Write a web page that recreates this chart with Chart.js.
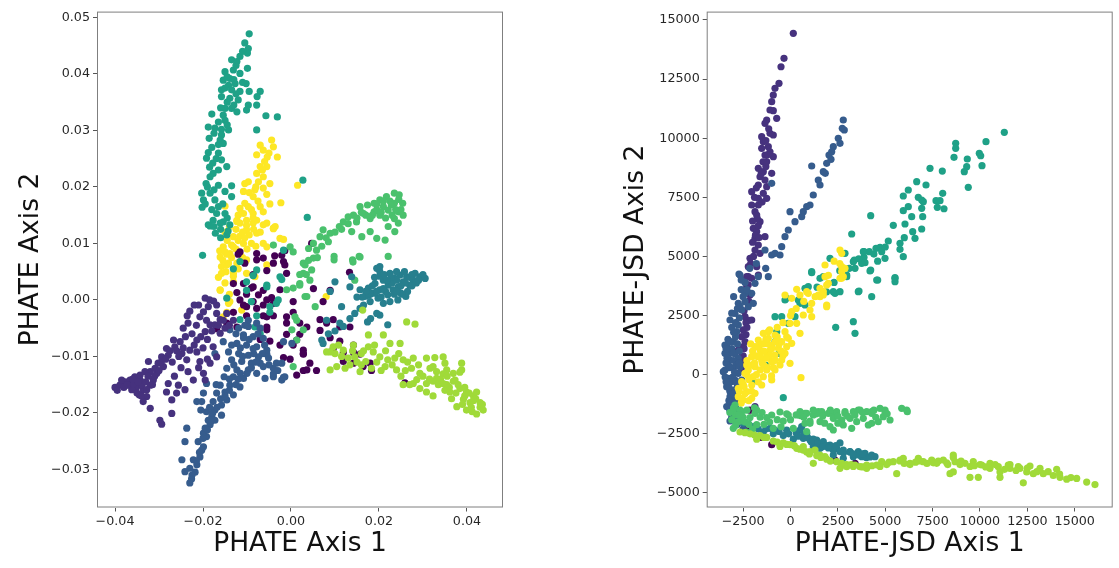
<!DOCTYPE html>
<html>
<head>
<meta charset="utf-8">
<script src="https://cdn.jsdelivr.net/npm/chart.js@4.4.1/dist/chart.umd.min.js"></script>
<style>
  html, body { margin: 0; padding: 0; background: #fff; }
  body { width: 1119px; height: 568px; position: relative; overflow: hidden; }
  .panel { position: absolute; top: 0; height: 568px; }
  #left { left: 0; width: 520px; }
  #right { left: 600px; width: 519px; }
</style>
</head>
<body>
<div class="panel" id="left"><canvas id="chartLeft"></canvas></div>
<div class="panel" id="right"><canvas id="chartRight"></canvas></div>
<script>
// viridis colours, one per class
const classColors = ['#440154', '#46327e', '#365c8d', '#277f8e', '#1fa187', '#4ac16d', '#a0da39', '#fde725']

// ---- left panel: PHATE ----
const leftXTicks = [-0.04, -0.02, 0, 0.02, 0.04]
const leftXLabels = ['\u22120.04', '\u22120.02', '0.00', '0.02', '0.04']
const leftYTicks = [-0.03, -0.02, -0.01, 0, 0.01, 0.02, 0.03, 0.04, 0.05]
const leftYLabels = ['\u22120.03', '\u22120.02', '\u22120.01', '0.00', '0.01', '0.02', '0.03', '0.04', '0.05']

const leftDarkPurple = [[-0.0120,0.0081],[-0.0078,0.0071],[-0.0086,0.0045],[-0.0055,0.0052],[-0.0017,0.0068],[-0.0014,0.0087],[-0.0037,0.0078],[0.0047,0.0100],[0.0133,0.0049],[-0.0108,0.0029],[-0.0123,0.0013],[-0.0101,0.0010],[-0.0063,0.0017],[-0.0044,0.0004],[-0.0108,-0.0009],[-0.0086,-0.0003],[-0.0063,-0.0009],[0.0005,-0.0003],[0.0051,0.0020],[0.0089,0.0017],[-0.0131,-0.0022],[-0.0101,-0.0028],[-0.0063,-0.0028],[-0.0040,-0.0028],[-0.0010,-0.0041],[0.0005,-0.0022],[-0.0146,-0.0041],[-0.0123,-0.0048],[-0.0169,-0.0051],[-0.0055,-0.0048],[-0.0070,-0.0070],[-0.0048,-0.0073],[-0.0025,-0.0080],[-0.0010,-0.0061],[0.0020,-0.0061],[0.0036,-0.0048],[0.0005,-0.0080],[0.0028,-0.0089],[0.0066,-0.0035],[0.0081,-0.0041],[0.0066,-0.0054],[0.0096,-0.0035],[0.0111,-0.0048],[0.0089,-0.0067],[0.0134,-0.0048],[0.0111,-0.0073],[0.0142,-0.0080],[0.0119,-0.0093],[0.0142,-0.0093],[0.0096,-0.0086],[0.0157,-0.0096],[0.0119,-0.0109],[0.0142,-0.0112],[0.0164,-0.0118],[0.0180,-0.0112],[0.0183,-0.0125],[0.0028,-0.0096],[0.0043,-0.0112],[0.0028,-0.0125],[0.0058,-0.0125],[-0.0002,-0.0105],[-0.0017,-0.0102],[0.0259,-0.0147],[0.0073,-0.0003],[-0.0086,0.0023],[-0.0131,0.0029],[-0.0116,0.0085],[-0.0105,0.0065],[-0.0078,0.0082],[-0.0063,0.0074],[-0.0040,0.0065],[-0.0021,0.0079],[-0.0014,0.0062],[-0.0010,0.0047],[-0.0090,0.0021],[-0.0074,0.0009],[-0.0055,0.0000],[-0.0040,-0.0006],[-0.0025,0.0018],[-0.0010,-0.0030],[0.0020,-0.0041],[0.0013,-0.0071],[0.0028,-0.0095],[0.0036,-0.0124],[0.0013,-0.0133],[-0.0055,-0.0030],[-0.0078,-0.0015],[-0.0101,-0.0012],[-0.0055,-0.0053],[-0.0116,0.0000]]

const leftPurple = [[-0.0400,-0.0155],[-0.0389,-0.0151],[-0.0377,-0.0145],[-0.0366,-0.0142],[-0.0355,-0.0136],[-0.0343,-0.0142],[-0.0351,-0.0154],[-0.0362,-0.0159],[-0.0336,-0.0159],[-0.0345,-0.0168],[-0.0328,-0.0171],[-0.0336,-0.0180],[-0.0320,-0.0192],[-0.0320,-0.0151],[-0.0313,-0.0142],[-0.0320,-0.0127],[-0.0305,-0.0130],[-0.0324,-0.0109],[-0.0302,-0.0112],[-0.0290,-0.0118],[-0.0294,-0.0101],[-0.0279,-0.0098],[-0.0283,-0.0086],[-0.0264,-0.0083],[-0.0267,-0.0071],[-0.0252,-0.0074],[-0.0279,-0.0148],[-0.0283,-0.0163],[-0.0271,-0.0177],[-0.0256,-0.0151],[-0.0245,-0.0050],[-0.0234,-0.0041],[-0.0248,-0.0095],[-0.0230,-0.0089],[-0.0237,-0.0106],[-0.0214,-0.0092],[-0.0214,-0.0071],[-0.0210,-0.0009],[-0.0207,-0.0030],[-0.0192,-0.0036],[-0.0195,-0.0056],[-0.0184,-0.0044],[-0.0188,-0.0012],[-0.0199,-0.0130],[-0.0184,-0.0112],[-0.0169,-0.0024],[-0.0173,-0.0044],[-0.0161,-0.0059],[-0.0195,0.0003],[-0.0169,-0.0009],[-0.0154,-0.0036],[-0.0146,-0.0024],[-0.0131,-0.0036],[-0.0177,-0.0083],[-0.0169,-0.0101],[-0.0207,-0.0109],[-0.0234,-0.0127],[-0.0222,-0.0142],[-0.0195,-0.0142],[-0.0241,-0.0159],[-0.0298,-0.0213],[-0.0294,-0.0220],[-0.0271,-0.0201],[-0.0385,-0.0142],[-0.0370,-0.0151],[-0.0358,-0.0148],[-0.0339,-0.0151],[-0.0328,-0.0159],[-0.0343,-0.0133],[-0.0332,-0.0127],[-0.0309,-0.0121],[-0.0220,-0.0009],[-0.0199,-0.0021],[-0.0176,-0.0002],[-0.0161,-0.0035],[-0.0236,-0.0028],[-0.0395,-0.0160],[-0.0380,-0.0155],[-0.0372,-0.0150],[-0.0360,-0.0140],[-0.0348,-0.0145],[-0.0350,-0.0165],[-0.0340,-0.0170],[-0.0330,-0.0145],[-0.0325,-0.0135],[-0.0315,-0.0150],[-0.0310,-0.0135],[-0.0300,-0.0125],[-0.0295,-0.0110],[-0.0285,-0.0105],[-0.0275,-0.0090],[-0.0260,-0.0090],[-0.0270,-0.0110],[-0.0255,-0.0100],[-0.0245,-0.0085],[-0.0240,-0.0065],[-0.0225,-0.0060],[-0.0220,-0.0080],[-0.0205,-0.0065],[-0.0200,-0.0085],[-0.0190,-0.0070],[-0.0180,-0.0055],[-0.0165,-0.0045],[-0.0150,-0.0050],[-0.0140,-0.0045],[-0.0265,-0.0135],[-0.0250,-0.0120],[-0.0260,-0.0165],[-0.0210,-0.0120],[-0.0190,-0.0105],[-0.0215,-0.0045],[-0.0230,-0.0020],[-0.0185,0.0000]]

const leftBlue = [[-0.0230,-0.0298],[-0.0248,-0.0283],[-0.0214,-0.0292],[-0.0207,-0.0278],[-0.0203,-0.0266],[-0.0211,-0.0251],[-0.0241,-0.0251],[-0.0192,-0.0242],[-0.0199,-0.0236],[-0.0237,-0.0227],[-0.0184,-0.0221],[-0.0173,-0.0213],[-0.0188,-0.0213],[-0.0192,-0.0198],[-0.0173,-0.0195],[-0.0158,-0.0204],[-0.0214,-0.0180],[-0.0203,-0.0180],[-0.0177,-0.0180],[-0.0158,-0.0186],[-0.0146,-0.0177],[-0.0199,-0.0165],[-0.0169,-0.0165],[-0.0150,-0.0163],[-0.0131,-0.0168],[-0.0161,-0.0151],[-0.0139,-0.0151],[-0.0116,-0.0154],[-0.0192,-0.0148],[-0.0152,-0.0136],[-0.0131,-0.0136],[-0.0108,-0.0139],[-0.0146,-0.0121],[-0.0123,-0.0124],[-0.0097,-0.0124],[-0.0078,-0.0130],[-0.0135,-0.0106],[-0.0112,-0.0109],[-0.0090,-0.0112],[-0.0063,-0.0118],[-0.0040,-0.0121],[-0.0021,-0.0112],[-0.0142,-0.0092],[-0.0119,-0.0095],[-0.0097,-0.0098],[-0.0074,-0.0101],[-0.0051,-0.0103],[-0.0123,-0.0077],[-0.0101,-0.0080],[-0.0078,-0.0083],[-0.0055,-0.0089],[-0.0108,-0.0062],[-0.0086,-0.0065],[-0.0063,-0.0068],[-0.0119,-0.0050],[-0.0097,-0.0047],[-0.0070,-0.0050],[-0.0097,-0.0036],[-0.0078,-0.0041],[-0.0139,-0.0053],[-0.0154,-0.0074],[-0.0173,-0.0095],[-0.0021,-0.0142],[-0.0040,-0.0136],[-0.0059,-0.0139],[-0.0230,-0.0324],[-0.0226,-0.0317],[-0.0241,-0.0304],[-0.0218,-0.0305],[-0.0222,-0.0283],[-0.0199,-0.0260],[-0.0195,-0.0227],[-0.0180,-0.0207],[-0.0108,-0.0067],[-0.0086,-0.0086],[-0.0055,-0.0096],[-0.0033,-0.0112],[-0.0017,-0.0137],[-0.0040,-0.0131],[-0.0070,-0.0112],[-0.0017,-0.0074],[0.0002,-0.0077],[-0.0014,-0.0136],[-0.0225,-0.0310],[-0.0215,-0.0285],[-0.0208,-0.0270],[-0.0200,-0.0245],[-0.0190,-0.0230],[-0.0182,-0.0215],[-0.0178,-0.0200],[-0.0168,-0.0190],[-0.0185,-0.0190],[-0.0160,-0.0175],[-0.0150,-0.0170],[-0.0140,-0.0160],[-0.0125,-0.0150],[-0.0120,-0.0140],[-0.0115,-0.0130],[-0.0100,-0.0130],[-0.0090,-0.0120],[-0.0080,-0.0110],[-0.0130,-0.0115],[-0.0110,-0.0100],[-0.0085,-0.0095],[-0.0065,-0.0095],[-0.0060,-0.0080],[-0.0135,-0.0080],[-0.0115,-0.0085],[-0.0095,-0.0070],[-0.0075,-0.0060],[-0.0125,-0.0060],[-0.0105,-0.0045],[-0.0030,-0.0125],[-0.0050,-0.0115],[-0.0140,-0.0140],[-0.0170,-0.0150],[-0.0205,-0.0195]]

const leftTeal = [[0.0305,0.0038],[0.0293,0.0041],[0.0282,0.0047],[0.0278,0.0035],[0.0270,0.0026],[0.0263,0.0041],[0.0255,0.0032],[0.0248,0.0044],[0.0244,0.0023],[0.0236,0.0038],[0.0232,0.0018],[0.0225,0.0047],[0.0221,0.0026],[0.0220,0.0009],[0.0210,0.0035],[0.0202,0.0018],[0.0202,0.0050],[0.0198,0.0003],[0.0191,0.0029],[0.0187,0.0012],[0.0180,-0.0003],[0.0176,0.0021],[0.0168,0.0006],[0.0165,-0.0009],[0.0157,0.0018],[0.0157,-0.0015],[0.0243,0.0000],[0.0261,0.0006],[0.0225,-0.0003],[0.0210,-0.0006],[0.0202,0.0059],[0.0195,0.0056],[0.0202,-0.0027],[0.0220,-0.0044],[0.0145,-0.0024],[0.0138,0.0041],[0.0134,0.0023],[0.0100,0.0032],[0.0089,0.0015],[0.0115,-0.0012],[0.0081,-0.0036],[0.0134,-0.0033],[0.0070,-0.0071],[0.0111,-0.0041],[0.0119,-0.0047],[0.0174,-0.0039],[0.0195,-0.0024],[0.0181,-0.0033],[0.0202,0.0042],[0.0285,0.0030],[0.0270,0.0040],[0.0250,0.0012],[0.0230,0.0030],[0.0215,0.0015],[0.0265,0.0015],[0.0240,0.0050],[0.0190,0.0040],[0.0175,0.0008],[0.0073,-0.0077],[0.0085,-0.0060],[0.0100,-0.0055],[0.0300,0.0045],[0.0290,0.0035],[0.0275,0.0045],[0.0275,0.0025],[0.0260,0.0030],[0.0258,0.0050],[0.0250,0.0025],[0.0240,0.0035],[0.0235,0.0010],[0.0228,0.0040],[0.0218,0.0035],[0.0212,0.0045],[0.0210,0.0020],[0.0205,0.0005],[0.0195,0.0015],[0.0185,0.0025],[0.0180,0.0010],[0.0170,0.0015],[0.0162,0.0005],[0.0150,0.0005],[0.0253,0.0010],[0.0240,0.0015]]

const leftTealGreen = [[-0.0095,0.0471],[-0.0105,0.0455],[-0.0097,0.0445],[-0.0099,0.0437],[-0.0116,0.0431],[-0.0135,0.0425],[-0.0123,0.0422],[-0.0099,0.0410],[-0.0150,0.0404],[-0.0131,0.0407],[-0.0116,0.0401],[-0.0139,0.0392],[-0.0154,0.0389],[-0.0142,0.0380],[-0.0127,0.0383],[-0.0102,0.0383],[-0.0158,0.0372],[-0.0135,0.0372],[-0.0116,0.0369],[-0.0095,0.0369],[-0.0070,0.0369],[-0.0158,0.0360],[-0.0139,0.0357],[-0.0120,0.0354],[-0.0077,0.0360],[-0.0097,0.0345],[-0.0078,0.0345],[-0.0150,0.0339],[-0.0135,0.0339],[-0.0101,0.0336],[-0.0123,0.0333],[-0.0154,0.0327],[-0.0057,0.0326],[-0.0031,0.0324],[-0.0180,0.0329],[-0.0150,0.0318],[-0.0078,0.0301],[-0.0188,0.0306],[-0.0173,0.0304],[-0.0158,0.0302],[-0.0142,0.0301],[-0.0158,0.0292],[-0.0186,0.0286],[-0.0161,0.0283],[-0.0154,0.0277],[-0.0188,0.0261],[-0.0165,0.0260],[-0.0158,0.0248],[-0.0192,0.0251],[-0.0178,0.0242],[-0.0146,0.0236],[-0.0177,0.0224],[-0.0184,0.0218],[-0.0193,0.0206],[-0.0165,0.0203],[-0.0135,0.0202],[-0.0203,0.0189],[-0.0184,0.0189],[-0.0150,0.0192],[-0.0199,0.0177],[-0.0173,0.0177],[-0.0135,0.0183],[-0.0202,0.0164],[-0.0165,0.0165],[-0.0169,0.0153],[-0.0150,0.0153],[-0.0177,0.0141],[-0.0154,0.0138],[-0.0188,0.0133],[-0.0139,0.0133],[0.0027,0.0212],[0.0037,0.0146],[-0.0184,0.0131],[-0.0161,0.0136],[-0.0146,0.0115],[-0.0201,0.0079],[-0.0116,0.0068],[-0.0078,0.0053],[-0.0101,0.0032],[-0.0090,-0.0003],[-0.0146,0.0003],[-0.0055,0.0026],[-0.0025,0.0041],[-0.0048,-0.0012],[-0.0029,0.0000],[-0.0086,0.0043],[-0.0055,0.0023],[-0.0078,-0.0028],[-0.0048,-0.0022],[-0.0033,-0.0006],[-0.0021,0.0036],[-0.0070,-0.0060],[-0.0116,-0.0035],[-0.0101,0.0017],[-0.0131,0.0055],[-0.0082,-0.0048],[-0.0017,0.0088],[-0.0160,0.0125],[-0.0172,0.0118],[-0.0143,0.0122],[-0.0110,0.0440],[-0.0125,0.0415],[-0.0145,0.0395],[-0.0130,0.0390],[-0.0110,0.0385],[-0.0150,0.0375],[-0.0125,0.0365],[-0.0145,0.0350],[-0.0130,0.0345],[-0.0160,0.0340],[-0.0165,0.0315],[-0.0145,0.0310],[-0.0175,0.0295],[-0.0165,0.0275],[-0.0180,0.0270],[-0.0170,0.0250],[-0.0185,0.0235],[-0.0165,0.0230],[-0.0190,0.0200],[-0.0175,0.0195],[-0.0195,0.0170],[-0.0180,0.0160],[-0.0155,0.0170],[-0.0175,0.0130],[-0.0160,0.0110],[-0.0145,0.0145]]

const leftLightGreen = [[0.0235,0.0189],[0.0246,0.0186],[0.0217,0.0183],[0.0202,0.0177],[0.0254,0.0171],[0.0235,0.0171],[0.0189,0.0171],[0.0174,0.0168],[0.0157,0.0165],[0.0210,0.0165],[0.0221,0.0159],[0.0244,0.0156],[0.0189,0.0156],[0.0165,0.0153],[0.0142,0.0150],[0.0202,0.0150],[0.0235,0.0144],[0.0130,0.0147],[0.0180,0.0144],[0.0244,0.0136],[0.0119,0.0138],[0.0149,0.0138],[0.0221,0.0130],[0.0236,0.0121],[0.0110,0.0130],[0.0138,0.0121],[0.0161,0.0112],[0.0180,0.0121],[0.0195,0.0109],[0.0214,0.0106],[0.0073,0.0124],[0.0089,0.0118],[0.0066,0.0112],[0.0085,0.0103],[0.0051,0.0100],[0.0040,0.0091],[0.0058,0.0088],[0.0098,0.0077],[0.0098,0.0071],[0.0140,0.0071],[0.0155,0.0077],[0.0051,0.0074],[0.0032,0.0062],[0.0047,0.0053],[0.0028,0.0047],[0.0221,0.0077],[0.0043,0.0035],[0.0020,0.0029],[0.0005,0.0021],[0.0032,0.0006],[0.0055,-0.0012],[0.0005,0.0085],[-0.0010,0.0018],[0.0009,-0.0030],[0.0002,-0.0053],[0.0013,-0.0071],[0.0145,0.0035],[0.0141,0.0067],[0.0157,0.0076],[0.0020,0.0026],[0.0028,0.0065],[0.0036,0.0006],[0.0013,-0.0036],[0.0028,-0.0053],[0.0005,-0.0118],[-0.0002,0.0094],[-0.0040,0.0097],[0.0225,0.0175],[0.0195,0.0160],[0.0215,0.0145],[0.0250,0.0160],[0.0228,0.0168],[0.0170,0.0150],[0.0245,0.0178],[0.0238,0.0160],[0.0210,0.0175],[0.0195,0.0170],[0.0205,0.0155],[0.0185,0.0150],[0.0230,0.0150],[0.0255,0.0150],[0.0160,0.0155],[0.0150,0.0145],[0.0130,0.0135],[0.0115,0.0125],[0.0100,0.0120],[0.0080,0.0110],[0.0070,0.0095],[0.0060,0.0075],[0.0040,0.0070],[0.0035,0.0045],[0.0020,0.0045]]

const leftLime = [[0.0263,-0.0039],[0.0282,-0.0043],[0.0210,-0.0062],[0.0176,-0.0062],[0.0096,-0.0083],[0.0108,-0.0080],[0.0119,-0.0089],[0.0089,-0.0092],[0.0142,-0.0080],[0.0176,-0.0083],[0.0225,-0.0077],[0.0248,-0.0077],[0.0160,-0.0095],[0.0187,-0.0092],[0.0202,-0.0101],[0.0145,-0.0101],[0.0130,-0.0103],[0.0170,-0.0109],[0.0220,-0.0106],[0.0236,-0.0103],[0.0255,-0.0106],[0.0278,-0.0103],[0.0308,-0.0103],[0.0346,-0.0101],[0.0183,-0.0121],[0.0214,-0.0118],[0.0240,-0.0124],[0.0274,-0.0121],[0.0293,-0.0130],[0.0316,-0.0121],[0.0331,-0.0127],[0.0354,-0.0124],[0.0388,-0.0124],[0.0369,-0.0130],[0.0157,-0.0127],[0.0134,-0.0115],[0.0123,-0.0121],[0.0089,-0.0124],[0.0104,-0.0118],[0.0278,-0.0148],[0.0308,-0.0148],[0.0331,-0.0139],[0.0346,-0.0148],[0.0373,-0.0142],[0.0081,-0.0092],[0.0323,-0.0118],[0.0346,-0.0131],[0.0384,-0.0128],[0.0323,-0.0144],[0.0354,-0.0150],[0.0369,-0.0144],[0.0384,-0.0157],[0.0361,-0.0163],[0.0399,-0.0163],[0.0415,-0.0170],[0.0422,-0.0163],[0.0392,-0.0176],[0.0407,-0.0182],[0.0430,-0.0182],[0.0437,-0.0195],[0.0422,-0.0202],[0.0399,-0.0195],[0.0377,-0.0189],[0.0323,-0.0170],[0.0308,-0.0163],[0.0293,-0.0157],[0.0286,-0.0141],[0.0388,-0.0112],[0.0350,-0.0112],[0.0327,-0.0102],[0.0270,-0.0150],[0.0255,-0.0150],[0.0163,-0.0018],[0.0340,-0.0140],[0.0360,-0.0155],[0.0395,-0.0170],[0.0410,-0.0190],[0.0300,-0.0135],[0.0195,-0.0110],[0.0160,-0.0115],[0.0230,-0.0115],[0.0260,-0.0125],[0.0415,-0.0178],[0.0375,-0.0165],[0.0380,-0.0150],[0.0395,-0.0155],[0.0405,-0.0165],[0.0420,-0.0175],[0.0430,-0.0190],[0.0435,-0.0185],[0.0412,-0.0198],[0.0390,-0.0185],[0.0365,-0.0175],[0.0350,-0.0160],[0.0335,-0.0150],[0.0315,-0.0140],[0.0290,-0.0115],[0.0265,-0.0110],[0.0245,-0.0095],[0.0215,-0.0090],[0.0190,-0.0080],[0.0165,-0.0090],[0.0140,-0.0090],[0.0115,-0.0100],[0.0100,-0.0095],[0.0150,-0.0110],[0.0205,-0.0125],[0.0250,-0.0135],[0.0355,-0.0135]]

const leftYellow = [[-0.0044,0.0283],[-0.0070,0.0274],[-0.0040,0.0271],[-0.0063,0.0265],[-0.0078,0.0257],[-0.0054,0.0253],[-0.0031,0.0253],[-0.0070,0.0236],[-0.0055,0.0236],[-0.0078,0.0224],[-0.0063,0.0218],[-0.0074,0.0209],[-0.0048,0.0206],[-0.0097,0.0209],[-0.0105,0.0206],[-0.0063,0.0198],[-0.0082,0.0195],[-0.0108,0.0192],[-0.0055,0.0187],[-0.0086,0.0183],[-0.0023,0.0172],[-0.0048,0.0170],[-0.0150,0.0166],[-0.0116,0.0162],[-0.0097,0.0165],[-0.0070,0.0165],[-0.0108,0.0153],[-0.0086,0.0153],[-0.0063,0.0156],[-0.0123,0.0141],[-0.0101,0.0141],[-0.0078,0.0141],[-0.0055,0.0136],[-0.0036,0.0130],[0.0015,0.0203],[-0.0116,0.0136],[-0.0086,0.0136],[-0.0063,0.0133],[-0.0101,0.0124],[-0.0078,0.0118],[-0.0040,0.0127],[-0.0131,0.0112],[-0.0154,0.0094],[-0.0135,0.0097],[-0.0108,0.0100],[-0.0161,0.0076],[-0.0139,0.0082],[-0.0116,0.0082],[-0.0142,0.0065],[-0.0123,0.0065],[-0.0158,0.0059],[-0.0158,0.0047],[-0.0131,0.0047],[-0.0101,0.0047],[-0.0131,0.0032],[-0.0082,0.0041],[-0.0161,0.0018],[-0.0142,-0.0006],[-0.0112,-0.0018],[-0.0154,-0.0030],[-0.0055,0.0062],[-0.0025,0.0109],[-0.0055,0.0094],[-0.0101,0.0071],[-0.0162,0.0087],[-0.0146,0.0081],[-0.0131,0.0094],[-0.0116,0.0113],[-0.0101,0.0132],[-0.0086,0.0145],[-0.0070,0.0120],[-0.0063,0.0100],[-0.0146,0.0062],[-0.0131,0.0042],[-0.0116,0.0068],[-0.0161,0.0017],[-0.0139,-0.0003],[-0.0146,-0.0022],[-0.0040,0.0126],[-0.0017,0.0107],[-0.0105,0.0171],[-0.0123,0.0139],[0.0080,0.0006],[-0.0150,0.0120],[-0.0140,0.0130],[-0.0125,0.0125],[-0.0110,0.0120],[-0.0095,0.0115],[-0.0085,0.0125],[-0.0145,0.0105],[-0.0120,0.0105],[-0.0105,0.0110],[-0.0090,0.0100],[-0.0150,0.0085],[-0.0125,0.0090],[-0.0100,0.0090],[-0.0080,0.0095],[-0.0155,0.0070],[-0.0135,0.0075],[-0.0110,0.0075],[-0.0148,0.0050],[-0.0120,0.0055],[-0.0150,0.0030],[-0.0140,0.0010],[-0.0165,0.0040],[-0.0090,0.0160],[-0.0075,0.0175],[-0.0080,0.0200],[-0.0065,0.0230],[-0.0060,0.0245],[-0.0050,0.0260],[-0.0095,0.0190],[-0.0120,0.0150]]

// ---- right panel: PHATE-JSD ----
const rightXTicks = [-2500, 0, 2500, 5000, 7500, 10000, 12500, 15000]
const rightXLabels = ['\u22122500', '0', '2500', '5000', '7500', '10000', '12500', '15000']
const rightYTicks = [-5000, -2500, 0, 2500, 5000, 7500, 10000, 12500, 15000]
const rightYLabels = ['\u22125000', '\u22122500', '0', '2500', '5000', '7500', '10000', '12500', '15000']

const rightDarkPurple = [[-992,-2960],[3404,-3801],[3404,-3746],[2348,-3607],[-2137,-1501],[-2300,-2250],[-1500,-2650],[-2700,-1900]]

const rightPurple = [[148,14434],[-343,13377],[-501,13022],[-607,12320],[-818,12109],[-908,11826],[-992,11543],[-1082,11192],[-908,11162],[-728,10841],[-1256,10769],[-1346,10629],[-1082,10206],[-1520,10063],[-908,10135],[-1435,9851],[-1171,9640],[-1520,9572],[-1082,9428],[-1346,9289],[-908,9217],[-1256,9006],[-1699,8727],[-1435,8583],[-992,8515],[-1609,8371],[-1346,8232],[-1699,8021],[-1256,7949],[-2047,7737],[-1435,7670],[-1699,7458],[-1256,7458],[-2047,7175],[-1699,7175],[-1873,6892],[-1784,6752],[-1609,6469],[-1963,6190],[-1784,6046],[-1873,5767],[-1346,5835],[-1699,5484],[-1873,5272],[-1609,5133],[-2137,4921],[-1784,4566],[-2227,4566],[-2311,4143],[-2047,4076],[-2311,3721],[-2227,4143],[-1699,4215],[-2137,3370],[-2227,3800],[-2401,2452],[-2047,2313],[-2575,1607],[-2491,1184],[-2755,1044],[-2575,761],[-2755,482],[-1873,-1353],[-2350,1700],[-2400,1400],[-2450,1100],[-2500,800],[-2550,500],[-2600,250],[-2300,2000],[-2200,2300],[-1150,10400],[-1300,9900],[-1200,9300],[-1450,9000],[-1550,8500],[-1300,8800],[-1800,7900],[-1500,7300],[-1900,7500],[-1750,6600],[-2000,6500],[-1700,6300],[-1850,5900],[-2000,5600],[-1650,5800],[-1950,5000],[-2100,4700],[-2400,4000],[-2300,3500],[-2200,3100],[-2450,2700],[-2350,2200],[-2500,1900]]

const rightBlue = [[2786,10769],[2733,10418],[2839,10346],[2522,9995],[2612,9783],[2259,9640],[2174,9428],[2032,9289],[2137,9107],[1910,8938],[1731,8583],[1836,8515],[1119,8824],[1467,8232],[1557,8021],[1203,7598],[1029,7175],[855,7103],[675,6892],[591,6680],[-26,6892],[237,6469],[-116,6118],[-290,5835],[-464,5412],[-992,5061],[-818,5133],[-554,5061],[-1346,5272],[-1309,4499],[-1171,4143],[-1699,4143],[-992,8092],[-2718,4258],[-1873,3864],[-2401,3442],[-2047,3442],[-1963,3019],[-2665,2875],[-2227,2875],[-2665,4215],[-3193,2313],[-2755,2101],[-2929,2596],[-2575,2735],[-2755,3019],[-2401,3086],[-2839,1818],[-3367,1256],[-3018,1395],[-3457,905],[-2929,905],[-3193,622],[-3457,199],[-3018,271],[-3282,-152],[-2929,-224],[-3367,-507],[-3018,-647],[-3193,-930],[-2839,-1070],[-3103,-1353],[-2755,693],[-2665,338],[-2755,59],[-3282,410],[-3546,127],[-2575,-224],[-3193,1044],[-3457,1256],[-3367,-1349],[-3103,-1653],[-3193,-1958],[-3100,2000],[-2900,1600],[-3300,1500],[-3100,1100],[-2800,1300],[-3300,800],[-3000,600],[-2850,400],[-3400,500],[-3100,300],[-3300,-400],[-3050,-100],[-2800,-500],[-3200,-700],[-2950,-900],[-3100,-1150],[-2900,-1400],[-3000,3300],[-2600,3600],[-2400,3900],[-2950,-1800],[-2800,-2100],[-2500,-2300],[-3400,1100],[-3200,1400],[-3000,1800],[-2900,2200],[-3100,2600],[-2800,2800],[-3350,700],[-3200,300],[-2950,100],[-3450,-100],[-3150,-300],[-2900,-300],[-3400,-300],[-3250,-550],[-3000,-800],[-3250,-1100],[-2950,-1200],[-3200,-1500],[-3000,-1600],[-3100,-1800],[-2700,2400],[-2500,3300],[-2300,3600],[-2600,4000],[-2150,4500],[-1800,4700],[-3000,900],[-2700,1000],[-2700,500]]

const rightTeal = [[501,-2338],[855,-2478],[1029,-2761],[1383,-2761],[1731,-2833],[2084,-2972],[2438,-3112],[2786,-3184],[3140,-3256],[3578,-3256],[3931,-3323],[4285,-3395],[4459,-3467],[3757,-3467],[3314,-3467],[2786,-3535],[2259,-3395],[1557,-3112],[1203,-3044],[675,-2689],[591,-2198],[765,-2549],[-2491,-2038],[-1963,-2190],[-1435,-2423],[-908,-2499],[-380,-2575],[148,-2727],[-1082,-2266],[-201,-2347],[675,-2575],[1203,-2727],[1557,-2960],[2259,-3188],[2612,-2883],[3140,-3264],[-1700,-2300],[-600,-2400],[300,-2450],[1900,-3000],[3600,-3400],[4000,-3500],[-2200,-2100],[-1300,-2300],[-800,-2350],[-100,-2500],[400,-2600],[900,-2650],[1400,-2900],[1700,-3050],[2000,-3100],[2400,-3000],[2800,-3300],[3300,-3350],[3800,-3350],[4200,-3480],[2600,-3250],[1100,-2850]]

const rightTealGreen = [[11283,10249],[10316,9851],[8717,9783],[8717,9572],[9963,9361],[10037,9259],[8628,9192],[9330,9120],[9298,8794],[9171,8583],[10105,8837],[7362,8727],[8011,8612],[9382,7923],[6660,8160],[7151,8021],[6216,7809],[5952,7556],[6744,7500],[6923,7386],[8032,7670],[7678,7357],[7889,7357],[7747,7078],[8100,7018],[7008,7315],[6216,7103],[5952,6934],[6923,7035],[6396,6680],[6976,6680],[4232,6723],[6042,6372],[5425,6317],[6923,6160],[6449,6046],[6005,5792],[5161,5653],[5778,5556],[6570,5767],[5778,5302],[4723,5387],[4512,5344],[4813,5200],[3879,5200],[4159,5200],[4987,4921],[5952,4989],[3879,4964],[3931,4735],[3314,4778],[3404,4499],[4232,4427],[5514,4101],[5514,3932],[4549,4004],[3230,5949],[2612,3509],[3615,3539],[4285,3298],[2876,5133],[2966,4143],[1119,4313],[1731,4143],[2966,4215],[4195,4384],[4601,4004],[5514,4076],[3578,3509],[2348,3442],[765,3653],[501,3019],[-290,3158],[-818,2452],[-464,2452],[-116,2173],[-728,1818],[-818,1395],[765,2947],[237,2452],[3314,2241],[3404,1750],[2385,2004],[-380,-972],[3842,5200],[3367,4850],[3757,4710],[2084,4921],[1119,4355],[1557,4076],[2259,3509],[939,3721],[412,3158],[-201,3230],[-600,900],[-1300,400],[-2000,-300],[5000,5400],[4600,4800],[4400,5100],[3600,4900],[3100,4500],[2600,4400],[2300,3900],[1400,3700],[1900,3500]]

const rightLightGreen = [[-2929,-1281],[-2575,-1564],[-1873,-1632],[-992,-1704],[-116,-1704],[765,-1632],[1467,-1564],[2174,-1632],[2876,-1564],[3578,-1492],[4285,-1564],[4987,-1492],[5868,-1421],[6132,-1492],[501,-1564],[855,-1632],[1203,-1704],[1646,-1564],[1995,-1632],[2438,-1564],[2876,-1632],[3314,-1564],[3667,-1492],[4021,-1564],[4285,-1632],[4723,-1421],[4987,-1564],[5251,-1915],[6164,-1564],[2259,-1843],[2702,-1915],[3140,-1843],[3493,-1987],[3842,-1843],[4285,-2055],[4633,-1987],[4897,-1776],[3230,-2266],[2259,-2338],[1557,-1987],[1029,-2055],[765,-2055],[855,-2410],[2084,-2198],[2786,-2127],[4106,-2127],[-3018,-1501],[-2665,-1958],[-2137,-1810],[-1784,-2114],[-1256,-1810],[-908,-2266],[-380,-1962],[148,-2266],[501,-1729],[1029,-1962],[1383,-1653],[-2665,-1501],[-3018,-2266],[-2311,-2423],[-1784,-1501],[-554,-1577],[-201,-1653],[-2900,-1700],[-2800,-2000],[-2500,-1800],[-2300,-1500],[-2200,-2100],[-1600,-1800],[-1400,-2100],[-700,-1900],[-1900,-1400],[-3100,-1900],[-2700,-1700],[-2400,-2000],[-2000,-2300],[-1500,-1600],[-1100,-2000],[-500,-2200],[0,-1900],[300,-1700],[700,-1800],[1200,-1500],[1700,-1750],[2100,-1500],[2500,-1750],[3000,-1750],[3400,-1700],[3800,-1600],[4500,-1800],[5100,-1650],[4400,-1500],[1800,-2050],[2500,-2050],[-3200,-1600],[-2900,-2150],[-3000,-1400]]

const rightLime = [[675,-3044],[1029,-3256],[1293,-3184],[1557,-3395],[1821,-3467],[1203,-3746],[2438,-3678],[2786,-3818],[2966,-3890],[3404,-3818],[3667,-3890],[4021,-3818],[4549,-3818],[4813,-3678],[5425,-3678],[5778,-3607],[5952,-3535],[6306,-3746],[6744,-3535],[7008,-3678],[7451,-3607],[7715,-3746],[8063,-3607],[8591,-3395],[8681,-3678],[9208,-3746],[9646,-3678],[10090,-3818],[10527,-3746],[10966,-3890],[11493,-3818],[12021,-3890],[12638,-3860],[13166,-3957],[14047,-4000],[5076,-3801],[5778,-3649],[6306,-3801],[6834,-3649],[7535,-3725],[8243,-3725],[8591,-4110],[8945,-3801],[9472,-3881],[10000,-3801],[10527,-3957],[11055,-4110],[11583,-3957],[12110,-3957],[12465,-4110],[12813,-4186],[13340,-4186],[13868,-4262],[14222,-4338],[14575,-4418],[15103,-4385],[15630,-4541],[16068,-4647],[12285,-4570],[11055,-4338],[9472,-4338],[9910,-4338],[8417,-4186],[5604,-4186],[11583,-3801],[8591,-3497],[-2665,-2423],[-2137,-2499],[-1609,-2575],[-908,-2803],[-380,-2883],[327,-3112],[855,-3264],[1383,-3420],[1910,-3573],[2966,-3801],[2612,-3957],[3314,-3881],[4021,-3957],[4723,-3881],[-1784,-2727],[-1256,-2651],[-554,-3036],[-26,-2960],[675,-3188],[-2400,-2450],[-1900,-2550],[-1400,-2650],[-700,-2850],[-200,-2950],[200,-3000],[500,-3150],[1000,-3350],[1600,-3500],[2100,-3650],[2700,-3750],[3200,-3800],[3800,-3900],[4300,-3850],[5200,-3700],[6000,-3750],[6600,-3700],[7200,-3750],[7800,-3650],[8300,-3800],[9000,-3650],[9700,-3850],[10300,-3900],[10800,-3800],[11300,-4000],[11900,-4050],[12500,-3950],[13000,-4100],[13600,-4100],[14200,-4200],[14800,-4350]]

const rightYellow = [[2702,4355],[2786,4143],[2612,4076],[1821,4143],[1995,3864],[1557,3653],[1731,3370],[1467,3370],[939,3442],[501,3370],[-290,3370],[1910,2947],[1119,3019],[1029,2735],[675,2524],[1119,2452],[63,2664],[327,2173],[-26,2173],[501,1750],[-290,1818],[-116,1539],[63,1328],[-464,1395],[-818,1679],[-1171,1818],[-1435,1750],[-1699,1467],[-1346,1328],[-992,1256],[-644,1116],[-290,905],[-818,833],[-1256,905],[-1609,1044],[-1873,1184],[-2047,761],[-1520,622],[-992,550],[-554,410],[-26,482],[-818,199],[-1256,199],[-1873,338],[-2311,410],[-2401,59],[-1963,-85],[-1435,-85],[-992,-224],[-1520,-435],[-2047,-435],[-2575,-296],[-2755,-575],[-2311,-719],[-1873,-786],[-2755,-930],[-2491,-1070],[-2047,-998],[554,-127],[-464,622],[-201,1184],[-1082,1044],[-1699,761],[-2227,199],[-1171,1539],[63,3230],[327,3611],[855,3509],[1557,3298],[1731,3509],[1910,3793],[1821,4638],[2612,5272],[2702,5133],[2702,4566],[2876,4499],[2702,4076],[1910,2875],[-1700,1200],[-1400,1000],[-1100,800],[-800,600],[-1500,500],[-1200,300],[-1800,0],[-2200,-200],[-1000,1100],[-600,1300],[-2100,400],[-1700,-300],[-2400,-800],[-1300,700],[-900,300],[-400,800],[-2600,-1200],[-1600,800],[-1200,1300],[-700,1600],[-2000,1000],[-1800,800],[-1900,500],[-2300,0],[-2500,-400],[-2700,-700],[-2600,-1000],[-2200,-1100],[-1600,200],[-1400,400],[-1000,-50],[-1300,1500],[-800,1400],[-500,1000],[-200,1600],[-1500,1300],[-2100,1300],[-2300,600],[-1100,1900],[-700,2000],[-400,2200],[0,2500],[300,2800],[700,3100],[1300,3300],[2000,4200],[2300,4800],[2600,4700],[-2450,-500],[-2050,-700]]

function toPoints(pairs) {
  return pairs.map(p => ({ x: p[0], y: p[1] }))
}

// draws the four-sided frame round the plot area
const framePlugin = {
  id: 'frame',
  afterDatasetsDraw(chart) {
    const { ctx, chartArea } = chart
    ctx.save()
    ctx.strokeStyle = '#7f7f7f'
    ctx.lineWidth = 1
    ctx.strokeRect(chartArea.left + 0.5, chartArea.top + 0.5,
      chartArea.right - chartArea.left - 1, chartArea.bottom - chartArea.top - 1)
    ctx.restore()
  }
}

Chart.defaults.font.family = 'DejaVu Sans'
Chart.defaults.color = '#262626'

// layers: first in the list is drawn at the bottom
function makeChart(canvasId, layers, cfg) {
  const datasets = layers.map((layer, i) => ({
    data: toPoints(layer.points),
    backgroundColor: classColors[layer.cls],
    borderWidth: 0,
    pointRadius: 3.6,
    pointHoverRadius: 3.6,
    order: layers.length - i
  }))

  const tickScale = (ticks, labels, min, max, title, titlePad, fit) => ({
    type: 'linear',
    min: min,
    max: max,
    afterBuildTicks: (scale) => { scale.ticks = ticks.map(v => ({ value: v })) },
    afterFit: fit,
    ticks: {
      autoSkip: false,
      maxRotation: 0,
      padding: 3,
      font: { size: 12.7 },
      callback: (value) => labels[ticks.indexOf(value)]
    },
    grid: { drawOnChartArea: false, drawTicks: true, tickLength: 4, color: '#555', lineWidth: 1 },
    border: { display: false },
    title: {
      display: true,
      text: title,
      color: '#111',
      font: { size: 26.5 },
      padding: titlePad
    }
  })

  return new Chart(document.getElementById(canvasId), {
    type: 'scatter',
    data: { datasets },
    options: {
      responsive: true,
      maintainAspectRatio: false,
      animation: false,
      events: [],
      layout: { padding: { top: 11.6, right: cfg.padRight, left: 0, bottom: 0 } },
      plugins: { legend: { display: false }, tooltip: { enabled: false } },
      scales: {
        x: tickScale(cfg.xTicks, cfg.xLabels, cfg.xMin, cfg.xMax, cfg.xTitle,
          { top: 0, bottom: 8 }, (s) => { s.height = 60.5 }),
        y: tickScale(cfg.yTicks, cfg.yLabels, cfg.yMin, cfg.yMax, cfg.yTitle,
          { top: cfg.yTitlePad, bottom: 0 }, (s) => { s.width = cfg.yWidth })
      }
    },
    plugins: [framePlugin]
  })
}

makeChart('chartLeft', [
  { cls: 7, points: leftYellow },
  { cls: 0, points: leftDarkPurple },
  { cls: 4, points: leftTealGreen },
  { cls: 5, points: leftLightGreen },
  { cls: 3, points: leftTeal },
  { cls: 6, points: leftLime },
  { cls: 2, points: leftBlue },
  { cls: 1, points: leftPurple }
], {
  xTicks: leftXTicks, xLabels: leftXLabels, xMin: -0.0441, xMax: 0.0482, xTitle: 'PHATE Axis 1',
  yTicks: leftYTicks, yLabels: leftYLabels, yMin: -0.03675, yMax: 0.05104, yTitle: 'PHATE Axis 2',
  yWidth: 97, yTitlePad: 15, padRight: 17
})

makeChart('chartRight', [
  { cls: 0, points: rightDarkPurple },
  { cls: 1, points: rightPurple },
  { cls: 2, points: rightBlue },
  { cls: 4, points: rightTealGreen },
  { cls: 7, points: rightYellow },
  { cls: 3, points: rightTeal },
  { cls: 5, points: rightLightGreen },
  { cls: 6, points: rightLime }
], {
  xTicks: rightXTicks, xLabels: rightXLabels, xMin: -4422, xMax: 17003, xTitle: 'PHATE-JSD Axis 1',
  yTicks: rightYTicks, yLabels: rightYLabels, yMin: -5615, yMax: 15353, yTitle: 'PHATE-JSD Axis 2',
  yWidth: 106.7, yTitlePad: 20.7, padRight: 6.3
})
</script>
</body>
</html>
